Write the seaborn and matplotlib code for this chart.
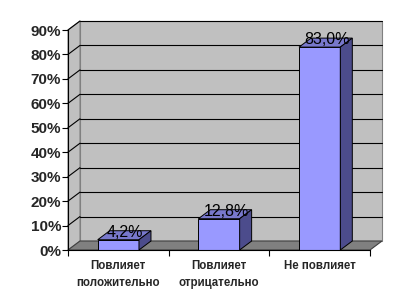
import matplotlib
matplotlib.use("Agg")
import matplotlib.pyplot as plt
from matplotlib.patches import Polygon
from matplotlib.ticker import FixedLocator
import seaborn as sns
import pandas as pd

categories = ["Повлияет\nположительно", "Повлияет\nотрицательно", "Не повлияет"]
values = [4.2, 12.8, 83.0]
value_labels = ["4,2%", "12,8%", "83,0%"]
y_ticks = list(range(0, 91, 10))
y_tick_labels = [f"{v}%" for v in y_ticks]

sns.set_style("white")
plt.rcParams["font.family"] = ["Liberation Sans", "DejaVu Sans"]

W, H = 413, 308
fig = plt.figure(figsize=(W / 100, H / 100), dpi=100)
fig.patch.set_facecolor("white")
ax = fig.add_axes([68 / W, 58 / H, 302 / W, 220 / H])
ax.set_facecolor("none")

df = pd.DataFrame({"cat": categories, "val": values})
sns.barplot(data=df, x="cat", y="val", ax=ax, color="#9999FF", width=0.41,
            edgecolor="black", linewidth=0.7, saturation=1, zorder=4)
bars = list(ax.patches)

ax.set_xlim(-0.5, 2.5)
ax.set_ylim(0, 90)

# depth offsets (data units)
DX = 12 / (302 / 3)
DY = 9 / (220 / 90)
x0, x1 = -0.5, 2.5
ymax = y_ticks[-1]

# walls
back = Polygon([(x0 + DX, DY), (x1 + DX, DY), (x1 + DX, ymax + DY), (x0 + DX, ymax + DY)],
               closed=True, facecolor="#C0C0C0", edgecolor="#808080", lw=0.8,
               clip_on=False, zorder=0)
left = Polygon([(x0, 0), (x0 + DX, DY), (x0 + DX, ymax + DY), (x0, ymax)],
               closed=True, facecolor="#C0C0C0", edgecolor="#808080", lw=0.8,
               clip_on=False, zorder=0)
floor = Polygon([(x0, 0), (x1, 0), (x1 + DX, DY), (x0 + DX, DY)],
                closed=True, facecolor="#808080", edgecolor="#404040", lw=0.8,
                clip_on=False, zorder=1)
for p in (back, left, floor):
    ax.add_patch(p)

for v in y_ticks[1:]:
    ax.plot([x0 + DX, x1 + DX], [v + DY, v + DY], color="black", lw=0.8,
            clip_on=False, zorder=1)
    ax.plot([x0, x0 + DX], [v, v + DY], color="black", lw=0.8,
            clip_on=False, zorder=1)

# 3D faces of bars
for p, lab in zip(bars, value_labels):
    bx, bw, bh = p.get_x(), p.get_width(), p.get_height()
    top = Polygon([(bx, bh), (bx + bw, bh), (bx + bw + DX, bh + DY), (bx + DX, bh + DY)],
                  closed=True, facecolor="#7878CC", edgecolor="black", lw=0.7,
                  clip_on=False, zorder=4)
    side = Polygon([(bx + bw, 0), (bx + bw + DX, DY), (bx + bw + DX, bh + DY), (bx + bw, bh)],
                   closed=True, facecolor="#4C4C8C", edgecolor="black", lw=0.7,
                   clip_on=False, zorder=4)
    ax.add_patch(top)
    ax.add_patch(side)
    ax.annotate(lab, xy=(bx + bw / 2, bh), xytext=(7, 3), textcoords="offset pixels",
                ha="center", va="baseline", fontsize=11.5, color="black",
                annotation_clip=False, zorder=6)

# axes styling
for s in ("top", "right"):
    ax.spines[s].set_visible(False)
for s in ("left", "bottom"):
    ax.spines[s].set_color("black")
    ax.spines[s].set_linewidth(0.8)
    ax.spines[s].set_zorder(5)

ax.set_yticks(y_ticks)
ax.set_yticklabels(y_tick_labels, fontsize=11, fontweight="bold")
ax.tick_params(axis="y", direction="out", length=4, width=0.8, color="black", pad=1, left=True)

ax.set_xticks(range(len(categories)))
ax.set_xticklabels(categories, fontsize=8.3, fontweight="bold", linespacing=1.55)
ax.tick_params(axis="x", which="major", length=0, pad=7)
ax.xaxis.set_minor_locator(FixedLocator([-0.5, 0.5, 1.5, 2.5]))
ax.tick_params(axis="x", which="minor", direction="out", length=4, width=0.8,
               color="black", bottom=True)
ax.set_xlabel("")
ax.set_ylabel("")
ax.grid(False)

fig.savefig("out.png", dpi=100)
